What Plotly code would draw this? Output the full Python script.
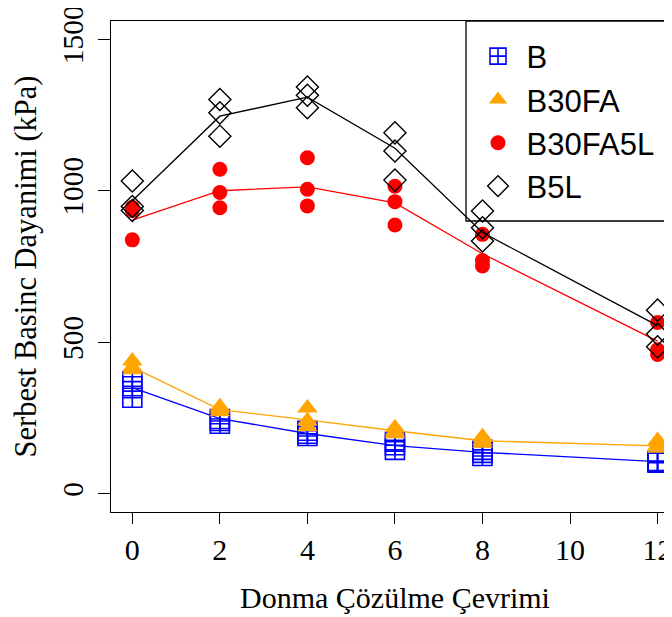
import plotly.graph_objects as go

cycles = [0, 2, 4, 6, 8, 12]

# replicate values (kPa), three per cycle
b_vals = [[370, 355, 317], [247, 240, 231], [208, 198, 191], [172, 160, 145], [145, 135, 125], [108, 106, 103]]
b30fa_vals = [[438, 418, 409], [287, 280, 271], [283, 241, 221], [218, 205, 198], [188, 175, 167], [176, 160, 150]]
b30fa5l_vals = [[945, 935, 838], [1071, 994, 944], [1109, 1005, 950], [1015, 964, 887], [856, 770, 752], [565, 475, 460]]
b5l_vals = [[1032, 948, 935], [1301, 1257, 1180], [1342, 1315, 1274], [1191, 1131, 1035], [933, 878, 834], [606, 527, 485]]

# connecting line values (kPa)
b_line = [350, 248, 199, 159, 137, 106]
b30fa_line = [418, 278, 244, 208, 175, 158]
b30fa5l_line = [903, 1000, 1013, 960, 792, 504]
b5l_line = [967, 1246, 1309, 1140, 862, 555]

series_names = ["B", "B30FA", "B30FA5L", "B5L"]
x_ticks = [0, 2, 4, 6, 8, 10, 12]
y_ticks = [0, 500, 1000, 1500]

styles = {
    "B": dict(color="#0000FF", symbol="square-cross-open", size=19, lw=1.6),
    "B30FA": dict(color="#FFA500", symbol="triangle-up", size=18, lw=0),
    "B30FA5L": dict(color="#FF0000", symbol="circle", size=15, lw=0),
    "B5L": dict(color="#000000", symbol="diamond-open", size=17, lw=1.4),
}
data = {"B": (b_vals, b_line), "B30FA": (b30fa_vals, b30fa_line),
        "B30FA5L": (b30fa5l_vals, b30fa5l_line), "B5L": (b5l_vals, b5l_line)}

fig = go.Figure()
for name in series_names:
    vals, line = data[name]
    st = styles[name]
    xs, ys = [], []
    for c, reps in zip(cycles, vals):
        for v in reps:
            xs.append(c)
            ys.append(v)
    fig.add_trace(go.Scatter(
        x=xs, y=ys, mode="markers", name="\u00a0" + name + "\u00a0" * 4,
        cliponaxis=False,
        marker=dict(symbol=st["symbol"], color=st["color"], size=st["size"],
                    line=dict(color=st["color"], width=st["lw"])),
    ))
    fig.add_trace(go.Scatter(
        x=cycles, y=line, mode="lines", showlegend=False, cliponaxis=False,
        line=dict(color=st["color"], width=1.3),
    ))

# page body has an 8px offset: figure is placed at (8, 8) in the window
PW, PH = 561, 491  # plot area size in px
serif = "Liberation Serif, Times New Roman, serif"
fig.update_layout(
    width=664, height=609,
    margin=dict(l=103, r=0, t=13, b=105, autoexpand=False),
    paper_bgcolor="white", plot_bgcolor="white",
    showlegend=True,
    legend=dict(
        x=(478 - 111) / PW, y=1 - 8.5 / PH, xanchor="left", yanchor="top",
        bgcolor="rgba(0,0,0,0)", borderwidth=0,
        font=dict(family="Liberation Sans, Arial, sans-serif", size=31, color="black"),
        itemsizing="trace",
    ),
    shapes=[dict(type="rect", xref="paper", yref="paper",
                 x0=(466 - 111) / PW, x1=1.1, y0=(512 - 221) / PH, y1=1,
                 line=dict(color="black", width=1.3), fillcolor="rgba(0,0,0,0)")],
    xaxis=dict(
        range=[-0.487, 12.33], tickvals=x_ticks, ticktext=[str(t) for t in x_ticks],
        showgrid=False, zeroline=False, showline=True, linecolor="black", linewidth=1.3,
        mirror=True, ticks="outside", ticklen=11, tickwidth=1.3, tickcolor="black",
        ticklabeloverflow="allow",
        tickfont=dict(family=serif, size=30, color="black"),
    ),
    yaxis=dict(
        range=[-60, 1560], tickvals=y_ticks, ticktext=[str(t) for t in y_ticks],
        showgrid=False, zeroline=False, showline=True, linecolor="black", linewidth=1.3,
        ticks="outside", ticklen=12, tickwidth=1.3, tickcolor="black", tickangle=-90,
        ticklabelstandoff=3, ticklabeloverflow="allow",
        tickfont=dict(family=serif, size=29.5, color="black"),
    ),
    annotations=[
        dict(text="Donma Çözülme Çevrimi", xref="paper", yref="paper",
             x=(395 - 111) / PW, y=(512 - 597) / PH, xanchor="center", yanchor="middle",
             showarrow=False, font=dict(family=serif, size=30, color="black")),
        dict(text="Serbest Basinc Dayanimi (kPa)", xref="paper", yref="paper",
             x=(25 - 111) / PW, y=0.5, xanchor="center", yanchor="middle", textangle=-90,
             showarrow=False, font=dict(family=serif, size=30.5, color="black")),
    ],
)

fig.write_html("out.html", config={"responsive": False})
